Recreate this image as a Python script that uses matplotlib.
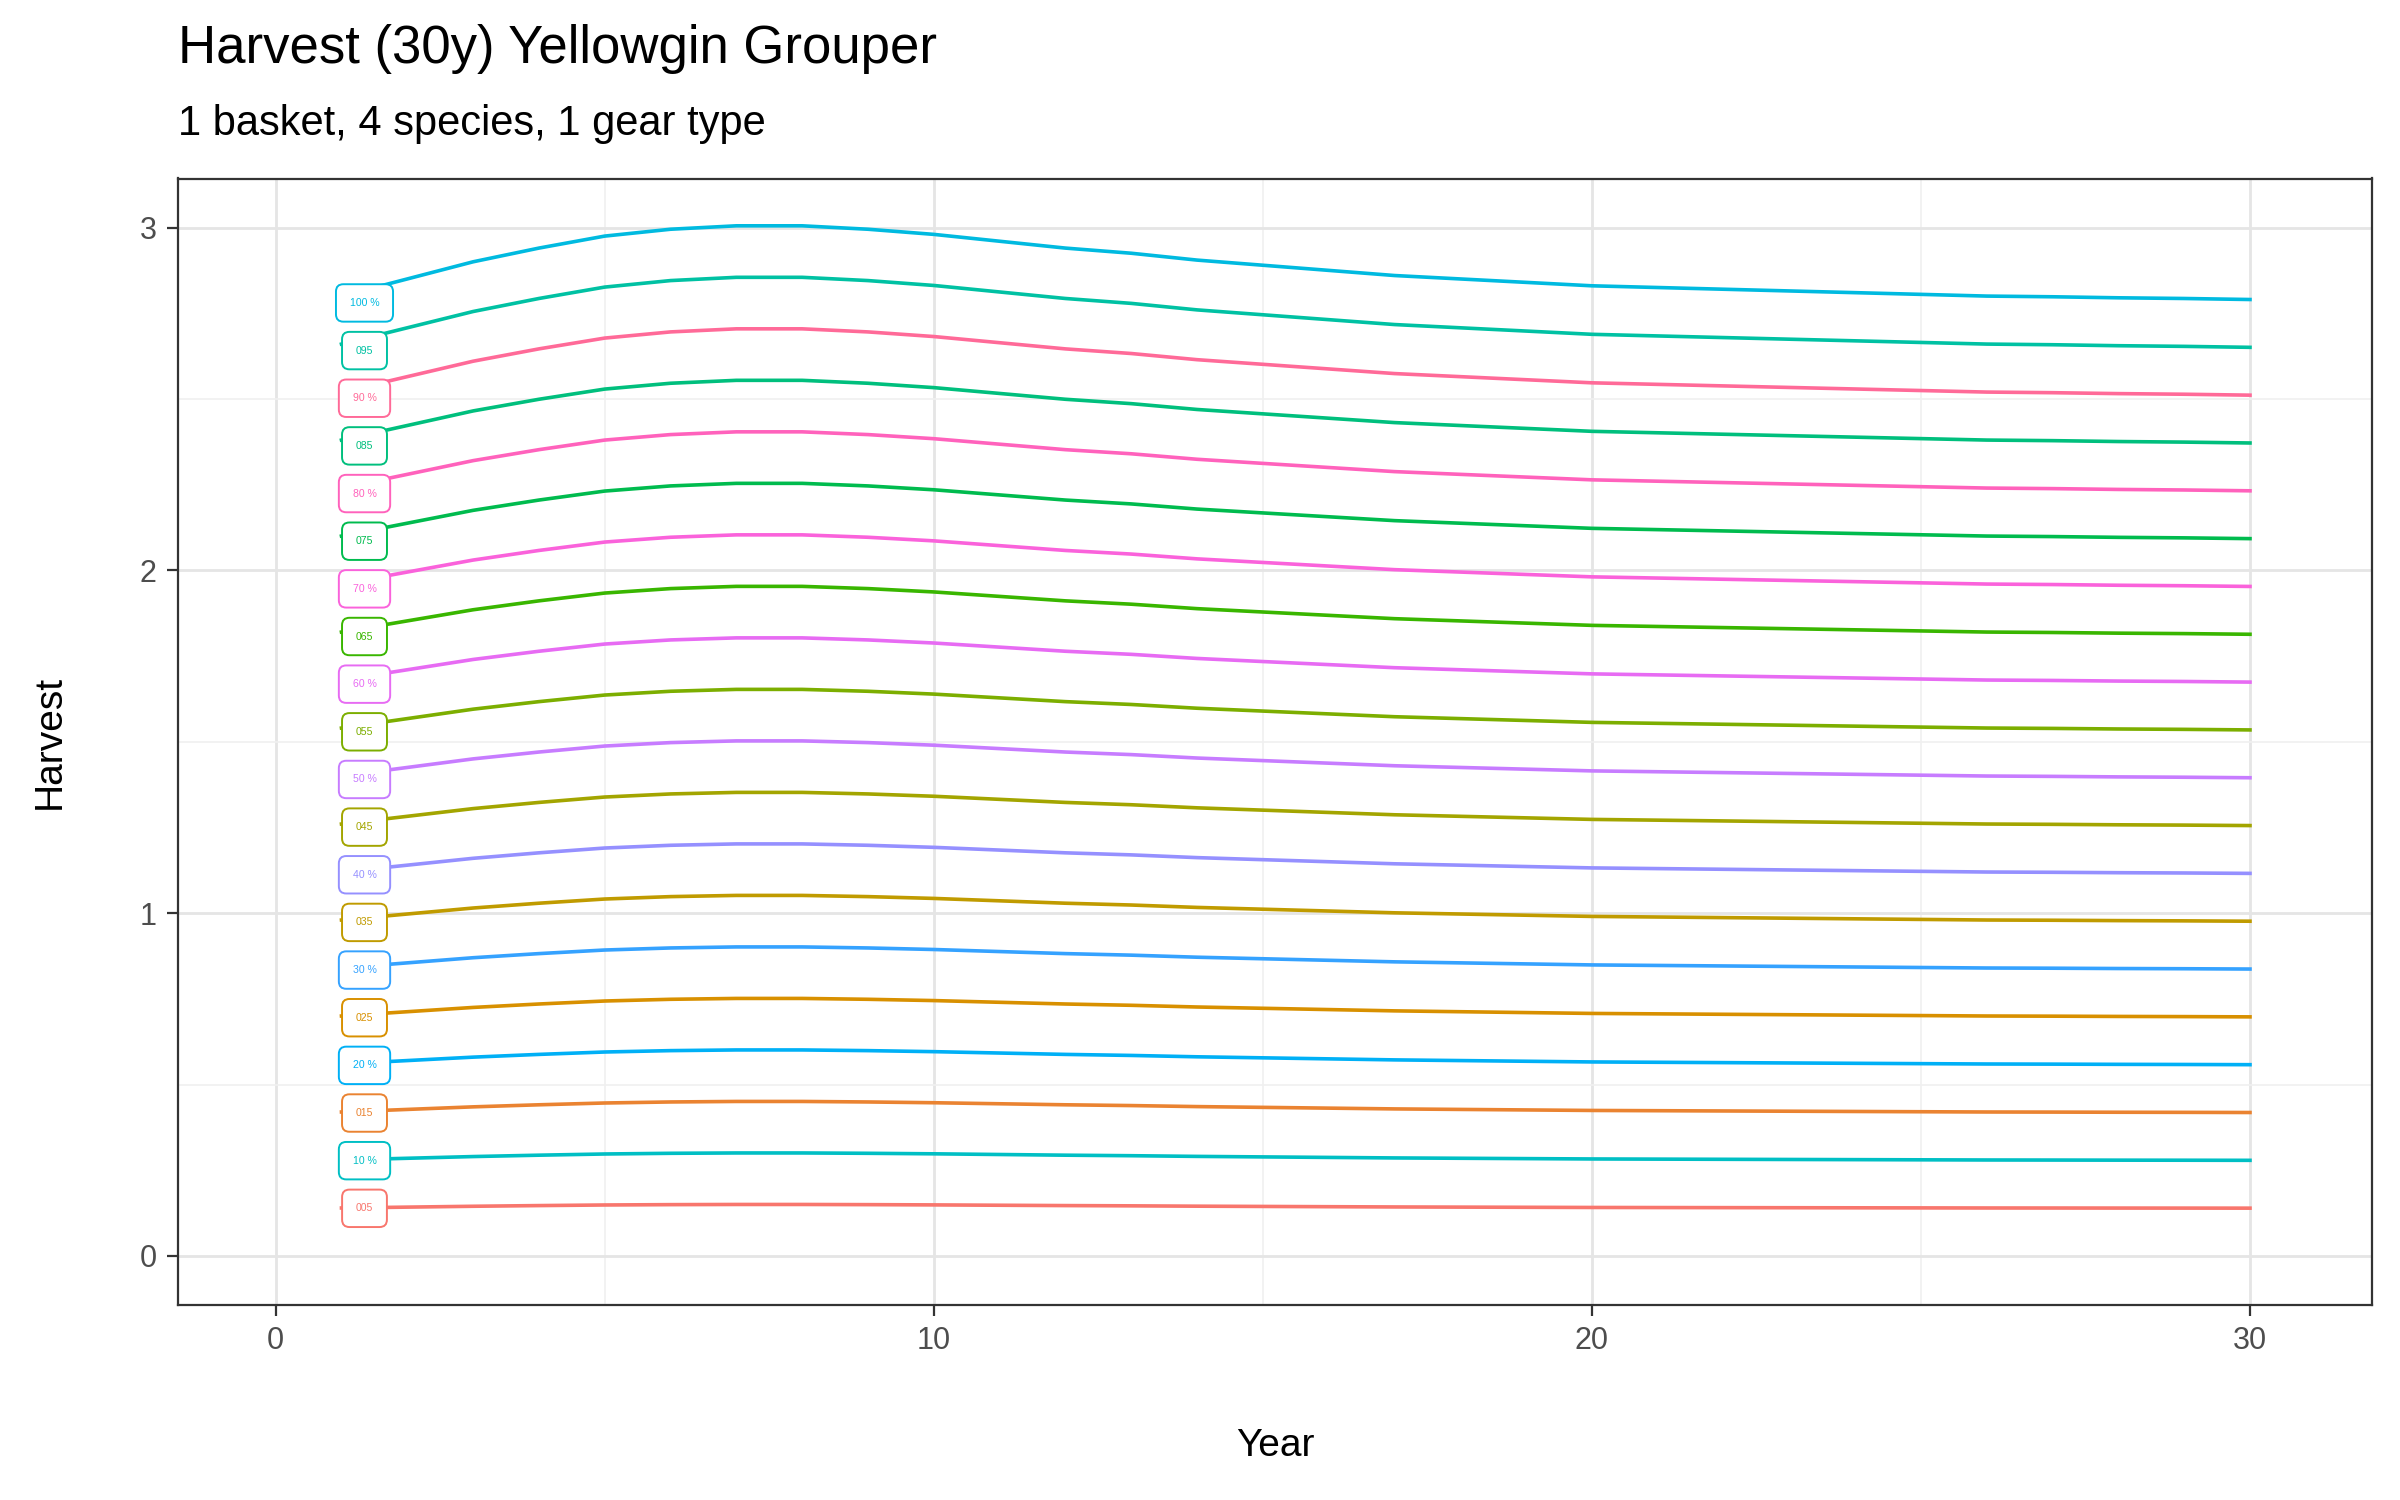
import numpy as np
import matplotlib.pyplot as plt

plt.rcParams['font.family'] = ['Liberation Sans', 'DejaVu Sans']

# harvest profile of the 100 % line
years = [1, 2, 3, 4, 5, 6, 7, 8, 9, 10, 11, 12, 13, 14, 15, 16, 17, 18, 19, 20,
         21, 22, 23, 24, 25, 26, 27, 28, 29, 30]
profile = [2.80, 2.85, 2.90, 2.94, 2.975, 2.995, 3.005, 3.005, 2.995, 2.98, 2.96, 2.94,
           2.925, 2.905, 2.89, 2.875, 2.86, 2.85, 2.84, 2.83, 2.825, 2.82, 2.815, 2.81,
           2.805, 2.80, 2.798, 2.795, 2.793, 2.79]
fractions = [0.05, 0.10, 0.15, 0.20, 0.25, 0.30, 0.35, 0.40, 0.45, 0.50,
             0.55, 0.60, 0.65, 0.70, 0.75, 0.80, 0.85, 0.90, 0.95, 1.00]
labels = ['005', '10 %', '015', '20 %', '025', '30 %', '035', '40 %', '045', '50 %',
          '055', '60 %', '065', '70 %', '075', '80 %', '085', '90 %', '095', '100 %']


def hcl_to_rgb(h, c=100, l=65):
    # polar LUV -> sRGB (as ggplot hue_pal)
    hr = np.radians(h)
    u, v = c * np.cos(hr), c * np.sin(hr)
    xn, yn, zn = 95.047, 100.0, 108.883
    un = 4 * xn / (xn + 15 * yn + 3 * zn)
    vn = 9 * yn / (xn + 15 * yn + 3 * zn)
    Y = yn * ((l + 16) / 116) ** 3
    up = u / (13 * l) + un
    vp = v / (13 * l) + vn
    X = Y * 9 * up / (4 * vp)
    Z = Y * (12 - 3 * up - 20 * vp) / (4 * vp)
    X, Y, Z = X / 100, Y / 100, Z / 100
    r = 3.2404542 * X - 1.5371385 * Y - 0.4985314 * Z
    g = -0.9692660 * X + 1.8760108 * Y + 0.0415560 * Z
    b = 0.0556434 * X - 0.2040259 * Y + 1.0572252 * Z
    out = []
    for ch in (r, g, b):
        ch = 1.055 * ch ** (1 / 2.4) - 0.055 if ch > 0.0031308 else 12.92 * ch
        out.append(min(max(ch, 0), 1))
    return tuple(out)


# factor levels sorted alphabetically, as ggplot does
levels = sorted(labels)
pal = [hcl_to_rgb(15 + 360 * i / 20) for i in range(20)]
colors = {lv: pal[i] for i, lv in enumerate(levels)}

fig = plt.figure(figsize=(12, 7.5), dpi=200)
ax = fig.add_axes([0.074, 0.130, 0.9145, 0.751])

prof = np.array(profile)
for f, lab in zip(fractions, labels):
    col = colors[lab]
    y = prof * f
    ax.plot(years, y, color=col, lw=1.3, zorder=2)
    ax.text(1.35, y[0] - 0.02 * f, lab, fontsize=3.8, color=col, ha='center', va='center', zorder=3,
            bbox=dict(boxstyle='round,pad=1.3,rounding_size=0.7', fc='white', ec=col, lw=0.7))

ax.set_xlim(-1.49, 31.86)
ax.set_ylim(-0.143, 3.143)
ax.set_xticks([0, 10, 20, 30])
ax.set_yticks([0, 1, 2, 3])
ax.set_xticks([5, 15, 25], minor=True)
ax.set_yticks([0.5, 1.5, 2.5], minor=True)
ax.tick_params(which='minor', length=0)
ax.tick_params(which='major', length=4, color='#333333', labelsize=11, labelcolor='#4d4d4d')
ax.grid(which='major', color='#e5e5e5', lw=1.0, zorder=0)
ax.grid(which='minor', color='#f0f0f0', lw=0.6, zorder=0)
ax.set_axisbelow(True)
for s in ax.spines.values():
    s.set_color('#333333')
    s.set_linewidth(0.8)

ax.set_xlabel('Year', fontsize=14, labelpad=26)
ax.set_ylabel('Harvest', fontsize=14, labelpad=26)
fig.text(0.074, 0.967, 'Harvest (30y) Yellowgin Grouper', fontsize=19, va='center')
fig.text(0.074, 0.917, '1 basket, 4 species, 1 gear type', fontsize=15, va='center')

fig.savefig('out.png', dpi=200)
